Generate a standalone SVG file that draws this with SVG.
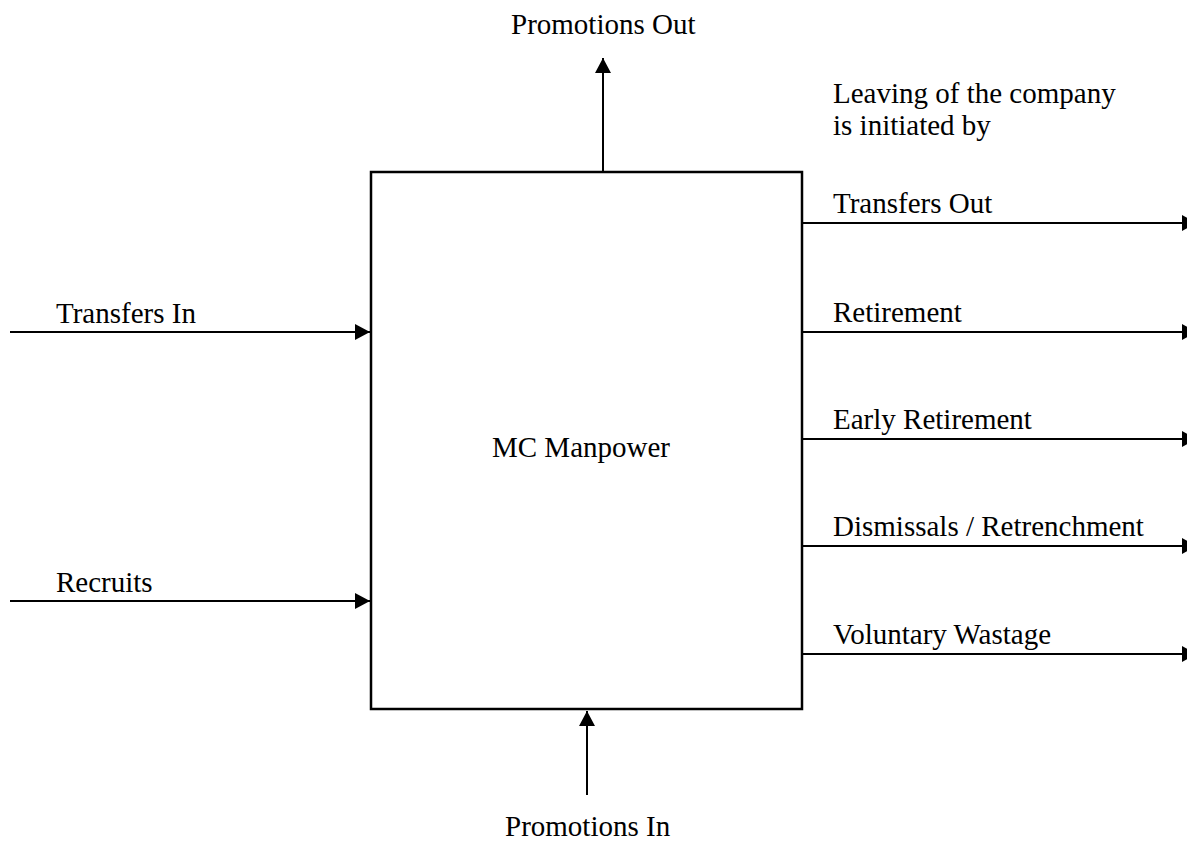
<svg xmlns="http://www.w3.org/2000/svg" width="1187" height="854" viewBox="0 0 1187 854">
<style>
text{font-family:"Liberation Serif","Times New Roman",serif;font-size:29px;fill:#000}
.c{stroke:#000;stroke-width:2;fill:none}
</style>
<defs>
<marker id="ah" markerUnits="userSpaceOnUse" markerWidth="16" markerHeight="16" refX="15" refY="8" orient="auto">
<path d="M0,0 L15,8 L0,16 z" fill="#000"/>
</marker>
</defs>
<rect width="1187" height="854" fill="#fff"/>
<g id="box">
<rect x="371" y="172" width="431" height="537" fill="none" stroke="#000" stroke-width="2.5"/>
<text x="581" y="457" text-anchor="middle">MC Manpower</text>
</g>
<g id="connectors">
<line class="c" x1="603" y1="172" x2="603" y2="58" marker-end="url(#ah)"/>
<line class="c" x1="587" y1="795" x2="587" y2="711" marker-end="url(#ah)"/>
<line class="c" x1="10" y1="332" x2="370" y2="332" marker-end="url(#ah)"/>
<line class="c" x1="10" y1="601" x2="370" y2="601" marker-end="url(#ah)"/>
<line class="c" x1="802" y1="223" x2="1197" y2="223" marker-end="url(#ah)"/>
<line class="c" x1="802" y1="332" x2="1197" y2="332" marker-end="url(#ah)"/>
<line class="c" x1="802" y1="439" x2="1197" y2="439" marker-end="url(#ah)"/>
<line class="c" x1="802" y1="546" x2="1197" y2="546" marker-end="url(#ah)"/>
<line class="c" x1="802" y1="654" x2="1197" y2="654" marker-end="url(#ah)"/>
</g>
<g id="labels">
<text x="511" y="34">Promotions Out</text>
<text x="505" y="836">Promotions In</text>
<text x="833" y="103">Leaving of the company</text>
<text x="833" y="135">is initiated by</text>
<text x="56" y="323">Transfers In</text>
<text x="56" y="592">Recruits</text>
<text x="833" y="213">Transfers Out</text>
<text x="833" y="322">Retirement</text>
<text x="833" y="429">Early Retirement</text>
<text x="833" y="536">Dismissals / Retrenchment</text>
<text x="833" y="644">Voluntary Wastage</text>
</g>
</svg>
